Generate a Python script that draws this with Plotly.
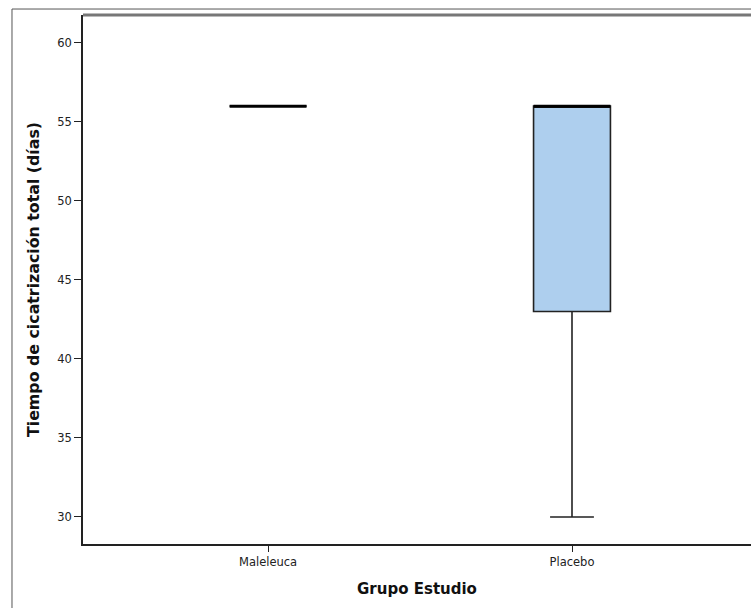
import plotly.graph_objects as go

categories = ["Maleleuca", "Placebo"]
q1 = [56, 43]
median = [56, 56]
q3 = [56, 56]
lower_fence = [56, 30]
upper_fence = [56, 56]

y_ticks = [30, 35, 40, 45, 50, 55, 60]

fig = go.Figure()

fig.add_trace(go.Box(
    x=categories, q1=q1, median=median, q3=q3,
    lowerfence=lower_fence, upperfence=upper_fence,
    fillcolor="#AECFEE", line=dict(color="#222222", width=1.6),
    width=0.253, whiskerwidth=0.57, boxpoints=False, hoverinfo="skip",
    showlegend=False,
))
# thick median line drawn as a collapsed box at the median
fig.add_trace(go.Box(
    x=categories, q1=median, median=median, q3=median,
    lowerfence=median, upperfence=median,
    fillcolor="rgba(0,0,0,0)", line=dict(color="#000000", width=3),
    width=0.253, whiskerwidth=0, boxpoints=False, hoverinfo="skip",
    showlegend=False,
))

fig.update_layout(
    width=751, height=608,
    margin=dict(l=83, r=0, t=15, b=64),
    paper_bgcolor="white", plot_bgcolor="white",
    boxmode="overlay",
    font=dict(family="DejaVu Sans", color="#333333"),
    xaxis=dict(
        range=[-0.609, 1.589], showgrid=False, zeroline=False,
        showline=True, linecolor="#222222", linewidth=1.5,
        ticks="outside", ticklen=6, tickcolor="#222222", tickwidth=1.2,
        tickfont=dict(size=11.5, color="#222222"),
        title=dict(text="<b>Grupo Estudio</b>", font=dict(size=15, color="#111111", family="DejaVu Sans"), standoff=16),
    ),
    yaxis=dict(
        range=[28.29, 61.77], showgrid=False, zeroline=False,
        showline=True, linecolor="#222222", linewidth=1.5,
        ticks="outside", ticklen=7, tickcolor="#222222", tickwidth=1.2,
        tickvals=y_ticks, tickfont=dict(size=11.5, color="#222222"),
        title=dict(text="<b>Tiempo de cicatrización total (días)</b>", font=dict(size=15.8, color="#111111", family="DejaVu Sans"), standoff=14),
    ),
)

# plot-area top border
fig.add_shape(type="line", xref="paper", yref="paper", x0=0, x1=1, y0=1, y1=1,
              line=dict(color="#777777", width=3))
# outer frame (left and top edges visible)
fig.add_shape(type="line", xref="paper", yref="paper", x0=-0.1063, x1=-0.1063, y0=-0.2, y1=1.0113,
              line=dict(color="#555555", width=1))
fig.add_shape(type="line", xref="paper", yref="paper", x0=-0.1063, x1=1.1, y0=1.0113, y1=1.0113,
              line=dict(color="#555555", width=1))

fig.write_html(
    "out.html",
    config={"displayModeBar": False},
    post_script="document.body.style.margin='0';document.body.style.overflow='hidden';",
)
